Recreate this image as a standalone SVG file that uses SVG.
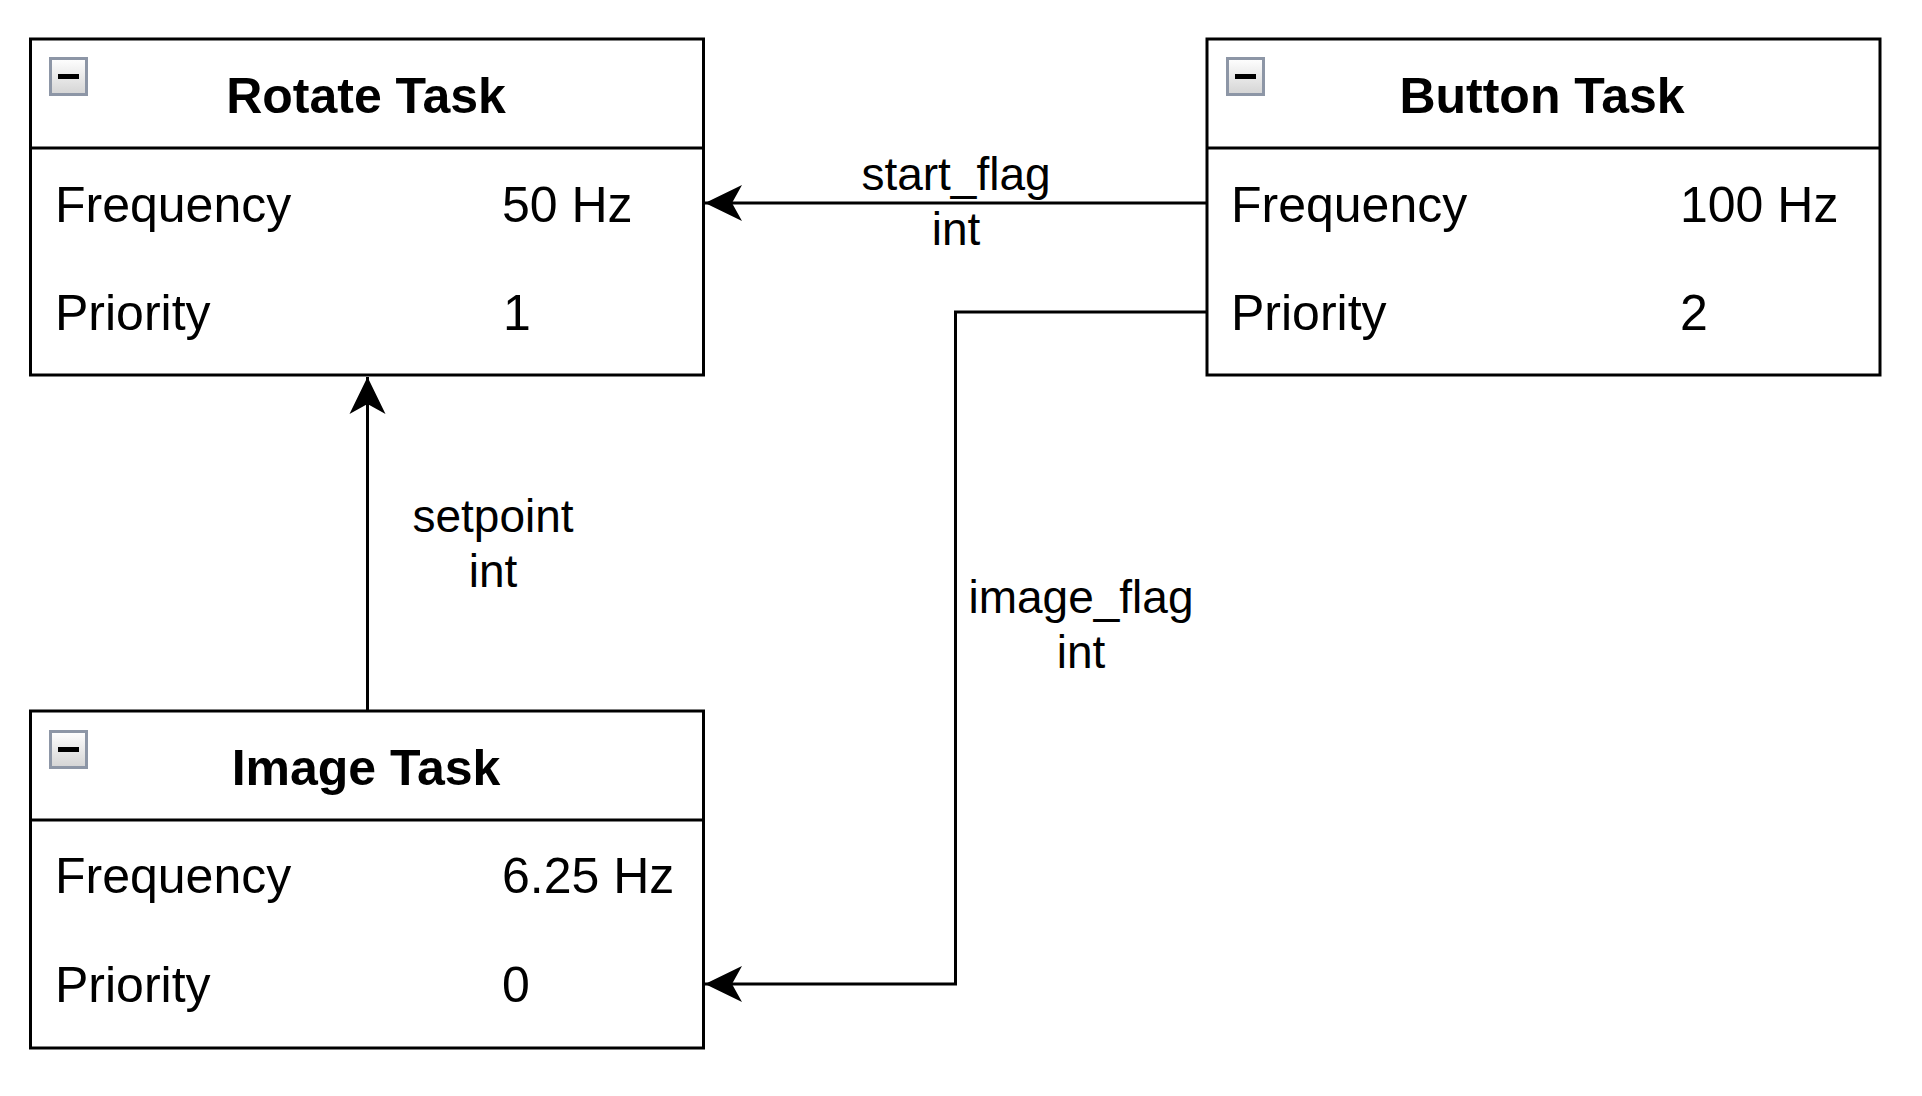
<svg xmlns="http://www.w3.org/2000/svg" width="1922" height="1096" viewBox="0 0 1922 1096">
<defs>
<linearGradient id="btnGrad" x1="0" y1="0" x2="0" y2="1">
<stop offset="0" stop-color="#ffffff"/>
<stop offset="1" stop-color="#d4d4d4"/>
</linearGradient>
<marker id="arrow" markerWidth="40" markerHeight="40" viewBox="0 0 40 40" refX="37" refY="19" orient="auto" markerUnits="userSpaceOnUse">
<path d="M37,19 L0,1 L10,19 L0,37 Z" fill="#000"/>
</marker>
<g id="collapse">
<rect x="0.5" y="0.5" width="36" height="36" fill="url(#btnGrad)" stroke="#8d96a6" stroke-width="3"/>
<rect x="8" y="16" width="21" height="5" fill="#000"/>
</g>
</defs>
<style>
.box{fill:#fff;stroke:#000;stroke-width:3}
.div{stroke:#000;stroke-width:3}
.title{font-family:"Liberation Sans",Arial,sans-serif;font-weight:bold;font-size:50px;fill:#000;text-anchor:middle}
.row{font-family:"Liberation Sans",Arial,sans-serif;font-size:50px;fill:#000}
.lbl{font-family:"Liberation Sans",Arial,sans-serif;font-size:46px;fill:#000;text-anchor:middle}
.edge{fill:none;stroke:#000;stroke-width:3;marker-end:url(#arrow)}
</style>
<rect width="1922" height="1096" fill="#fff"/>
<g id="rotate-task">
<rect class="box" x="30.5" y="39" width="673" height="336"/>
<line class="div" x1="30.5" y1="148" x2="703.5" y2="148"/>
<use href="#collapse" x="50" y="58"/>
<text class="title" x="366" y="113">Rotate Task</text>
<text class="row" x="55" y="222">Frequency</text>
<text class="row" x="502" y="222">50 Hz</text>
<text class="row" x="55" y="330">Priority</text>
<text class="row" x="503" y="330">1</text>
</g>
<g id="button-task">
<rect class="box" x="1207" y="39" width="673" height="336"/>
<line class="div" x1="1207" y1="148" x2="1880" y2="148"/>
<use href="#collapse" x="1227" y="58"/>
<text class="title" x="1542" y="113">Button Task</text>
<text class="row" x="1231" y="222">Frequency</text>
<text class="row" x="1680" y="222">100 Hz</text>
<text class="row" x="1231" y="330">Priority</text>
<text class="row" x="1680" y="330">2</text>
</g>
<g id="image-task">
<rect class="box" x="30.5" y="711" width="673" height="337"/>
<line class="div" x1="30.5" y1="820" x2="703.5" y2="820"/>
<use href="#collapse" x="50" y="731"/>
<text class="title" x="366" y="785">Image Task</text>
<text class="row" x="55" y="893">Frequency</text>
<text class="row" x="502" y="893">6.25 Hz</text>
<text class="row" x="55" y="1002">Priority</text>
<text class="row" x="502" y="1002">0</text>
</g>
<g id="connectors">
<path class="edge" d="M1207,203 L705,203"/>
<path class="edge" d="M367.5,711 L367.5,377"/>
<path class="edge" d="M1207,312 L955.5,312 L955.5,984 L705,984"/>
<text class="lbl" x="956" y="190">start_flag</text>
<text class="lbl" x="956" y="245">int</text>
<text class="lbl" x="493" y="532">setpoint</text>
<text class="lbl" x="493" y="587">int</text>
<text class="lbl" x="1081" y="613">image_flag</text>
<text class="lbl" x="1081" y="668">int</text>
</g>
</svg>
